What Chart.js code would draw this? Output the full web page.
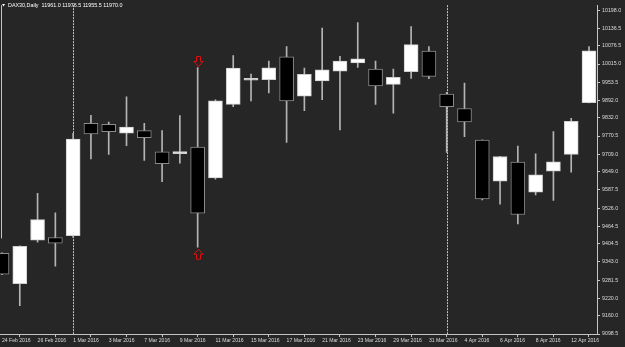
<!DOCTYPE html>
<html>
<head>
<meta charset="utf-8">
<script src="https://cdn.jsdelivr.net/npm/chart.js@4.4.1/dist/chart.umd.min.js"></script>
<style>
  html, body { margin: 0; padding: 0; background: #262626; }
  #wrap { width: 625px; height: 347px; }
</style>
</head>
<body>
<div id="wrap"><canvas id="dax-chart" width="625" height="347"></canvas></div>
<script>
const TITLE = "DAX30,Daily  11961.0 11976.5 11955.5 11970.0";

const dates = [
  "24 Feb 2016", "25 Feb 2016", "26 Feb 2016", "29 Feb 2016",
  "1 Mar 2016", "2 Mar 2016", "3 Mar 2016", "4 Mar 2016", "7 Mar 2016",
  "8 Mar 2016", "9 Mar 2016", "10 Mar 2016", "11 Mar 2016", "14 Mar 2016",
  "15 Mar 2016", "16 Mar 2016", "17 Mar 2016", "18 Mar 2016", "21 Mar 2016",
  "22 Mar 2016", "23 Mar 2016", "24 Mar 2016", "29 Mar 2016", "30 Mar 2016",
  "31 Mar 2016", "1 Apr 2016", "4 Apr 2016", "5 Apr 2016", "6 Apr 2016",
  "7 Apr 2016", "8 Apr 2016", "11 Apr 2016", "12 Apr 2016", "13 Apr 2016",
];

const opens = [
  9372, 9269, 9417, 9426, 9432, 9814, 9810, 9780, 9789, 9717, 9711, 9733,
  9628, 9878, 9960, 9962, 10039, 9906, 9958, 9991, 10019, 9998, 9946, 9989,
  10059, 9913, 9864, 9757, 9617, 9682, 9580, 9651, 9708, 9884,
];
const highs = [
  9374, 9398, 9576, 9510, 9780, 9841, 9818, 9904, 9814, 9789, 9840, 10003,
  9893, 10044, 9981, 10025, 10074, 10001, 10137, 10041, 10156, 10025, 9998, 10142,
  10074, 9919, 9950, 9758, 9702, 9736, 9710, 9786, 9831, 10074,
];
const lows = [
  9300, 9195, 9410, 9329, 9426, 9693, 9708, 9738, 9688, 9616, 9678, 9393,
  9624, 9870, 9890, 9917, 9749, 9857, 9894, 9791, 10003, 9878, 9848, 9966,
  9965, 9715, 9768, 9554, 9539, 9472, 9571, 9552, 9648, 9883,
];
const closes = [
  9302, 9396, 9487, 9407, 9760, 9778, 9785, 9801, 9765, 9677, 9712, 9509,
  9890, 10001, 9961, 10002, 9890, 9980, 9995, 10025, 10033, 9941, 9970, 10081,
  9973, 9870, 9818, 9557, 9701, 9504, 9639, 9683, 9820, 10060,
];

const yTicks = [
  10198.0, 10136.5, 10076.5, 10015.0, 9953.5, 9892.0, 9832.0, 9770.5, 9709.0,
  9649.0, 9587.5, 9526.0, 9464.5, 9404.5, 9343.0, 9281.5, 9220.0, 9160.0, 9098.5,
];

// bars marked with the red up/down arrows
const arrowBars = [11];

const BG = "#262626";
const TEXT = "#dcdcdc";
const AXIS = "#c4c4c4";
const FONT = "'Liberation Sans', Arial, sans-serif";

const isBull = opens.map((o, i) => closes[i] >= o);
const bodyData = dates.map((d, i) => ({ x: i, y: [opens[i], closes[i]] }));
const wickData = dates.map((d, i) => ({ x: i, y: [lows[i], highs[i]] }));

// first bar of each month gets a dotted separator
const monthStarts = dates
  .map((d, i) => i)
  .filter((i) => i > 0 && dates[i].split(" ")[1] !== dates[i - 1].split(" ")[1]);

const drawArrow = (ctx, x, tipY, dir) => {
  // dir = 1 points down, -1 points up
  const headW = 4.5, stemW = 2, headH = 5, stemH = 5;
  ctx.beginPath();
  ctx.moveTo(x, tipY);
  ctx.lineTo(x - headW, tipY - dir * headH);
  ctx.lineTo(x - stemW, tipY - dir * headH);
  ctx.lineTo(x - stemW, tipY - dir * (headH + stemH));
  ctx.lineTo(x + stemW, tipY - dir * (headH + stemH));
  ctx.lineTo(x + stemW, tipY - dir * headH);
  ctx.lineTo(x + headW, tipY - dir * headH);
  ctx.closePath();
  ctx.fillStyle = BG;
  ctx.fill();
  ctx.stroke();
};

const mt4Decor = {
  id: "mt4Decor",
  beforeDraw(chart) {
    const ctx = chart.ctx;
    ctx.save();
    ctx.fillStyle = BG;
    ctx.fillRect(0, 0, chart.width, chart.height);
    ctx.restore();
  },
  beforeDatasetsDraw(chart) {
    const { ctx, chartArea, scales } = chart;
    ctx.save();
    ctx.strokeStyle = AXIS;
    ctx.lineWidth = 1;
    ctx.setLineDash([2, 1]);
    monthStarts.forEach((i) => {
      const x = Math.round(scales.x.getPixelForValue(i)) + 0.5;
      ctx.beginPath();
      ctx.moveTo(x, chartArea.top);
      ctx.lineTo(x, chartArea.bottom);
      ctx.stroke();
    });
    ctx.setLineDash([]);
    // light edge on the far left
    ctx.beginPath();
    ctx.moveTo(chartArea.left + 1.5, chartArea.top);
    ctx.lineTo(chartArea.left + 1.5, scales.y.getPixelForValue(9423));
    ctx.stroke();
    ctx.restore();
  },
  afterDatasetsDraw(chart) {
    const { ctx, scales } = chart;
    ctx.save();
    ctx.strokeStyle = "#e01010";
    ctx.lineWidth = 1;
    arrowBars.forEach((i) => {
      const x = Math.round(scales.x.getPixelForValue(i)) + 0.5;
      drawArrow(ctx, x, scales.y.getPixelForValue(highs[i]) - 1, 1);
      drawArrow(ctx, x, scales.y.getPixelForValue(lows[i]) + 2, -1);
    });
    ctx.restore();
  },
  afterDraw(chart) {
    const ctx = chart.ctx;
    ctx.save();
    ctx.fillStyle = "#ffffff";
    ctx.beginPath();
    ctx.moveTo(2, 4);
    ctx.lineTo(5, 4);
    ctx.lineTo(3.5, 6.5);
    ctx.closePath();
    ctx.fill();
    ctx.font = `5.4px ${FONT}`;
    ctx.textBaseline = "middle";
    ctx.fillText(TITLE, 8, 5.5);
    ctx.restore();
  },
};

new Chart(document.getElementById("dax-chart"), {
  type: "bar",
  data: {
    datasets: [
      {
        label: "body",
        data: bodyData,
        backgroundColor: isBull.map((b) => (b ? "#ffffff" : "#000000")),
        borderColor: isBull.map((b) => (b ? "#cfcfcf" : "#8c8c8c")),
        borderWidth: 1,
        borderSkipped: false,
        barThickness: 14,
        minBarLength: 2,
        grouped: false,
        order: 0,
      },
      {
        label: "wick",
        data: wickData,
        backgroundColor: "#b4b4b4",
        borderWidth: 0,
        barThickness: 1,
        grouped: false,
        order: 1,
      },
    ],
  },
  options: {
    responsive: false,
    animation: false,
    layout: { padding: 0 },
    plugins: {
      legend: { display: false },
      tooltip: { enabled: false },
    },
    scales: {
      x: {
        type: "linear",
        min: -0.112,
        max: 33.45,
        offset: false,
        afterBuildTicks: (scale) => {
          scale.ticks = dates.map((d, i) => ({ value: i })).filter((t) => t.value % 2 === 0);
        },
        afterFit: (scale) => {
          scale.height = 13;
        },
        ticks: {
          autoSkip: false,
          maxRotation: 0,
          align: "start",
          padding: 1,
          color: TEXT,
          font: { family: FONT, size: 5.1 },
          callback: (value) => dates[value],
        },
        grid: {
          display: true,
          drawOnChartArea: false,
          drawTicks: true,
          tickLength: 3,
          color: AXIS,
        },
        border: { display: true, color: AXIS, width: 1 },
      },
      y: {
        position: "right",
        min: 9098.5,
        max: 10214.7,
        afterBuildTicks: (scale) => {
          scale.ticks = yTicks.map((v) => ({ value: v }));
        },
        afterFit: (scale) => {
          scale.width = 28;
        },
        ticks: {
          autoSkip: false,
          padding: 2,
          color: TEXT,
          font: { family: FONT, size: 5.3 },
          callback: (value) => Number(value).toFixed(1),
        },
        grid: {
          display: true,
          drawOnChartArea: false,
          drawTicks: true,
          tickLength: 3,
          color: AXIS,
        },
        border: { display: true, color: AXIS, width: 1 },
      },
    },
  },
  plugins: [mt4Decor],
});
</script>
</body>
</html>
